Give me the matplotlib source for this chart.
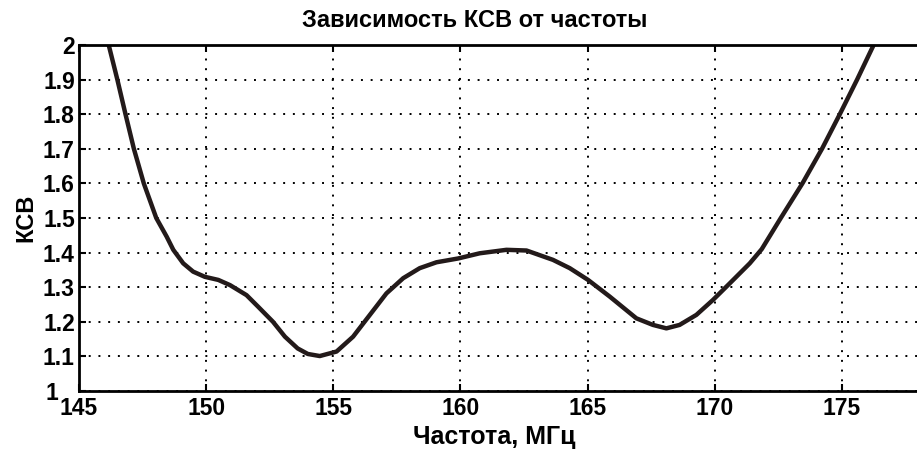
import matplotlib
matplotlib.use('Agg')
import matplotlib.pyplot as plt
from matplotlib.transforms import ScaledTranslation

# --------------------------------------------------------------------------------
# Data (frequency in MHz, VSWR)

freq = [146.17, 146.51, 146.83, 147.16, 147.55, 148.04, 148.45, 148.71, 149.1,
        149.49, 149.95, 150.48, 150.94, 151.59, 152.04, 152.63, 153.1, 153.6,
        154.0, 154.47, 155.13, 155.78, 156.44, 157.09, 157.75, 158.4, 159.06,
        159.91, 160.76, 161.81, 162.6, 163.64, 164.3, 165.02, 165.87, 166.92,
        167.57, 168.1, 168.62, 169.28, 169.93, 170.59, 171.38, 171.85, 172.6,
        173.45, 174.22, 174.92, 175.6, 176.25]
vswr = [2.0, 1.9, 1.8, 1.7, 1.6, 1.5, 1.446, 1.408, 1.369,
        1.345, 1.33, 1.321, 1.306, 1.277, 1.244, 1.2, 1.157, 1.123,
        1.107, 1.101, 1.114, 1.157, 1.22, 1.282, 1.326, 1.355, 1.372,
        1.383, 1.398, 1.408, 1.406, 1.379, 1.355, 1.321, 1.273, 1.21,
        1.191, 1.181, 1.191, 1.22, 1.263, 1.311, 1.369, 1.41, 1.5,
        1.6, 1.7, 1.8, 1.9, 2.0]

xticks = [145, 150, 155, 160, 165, 170, 175]
yticks = [1, 1.1, 1.2, 1.3, 1.4, 1.5, 1.6, 1.7, 1.8, 1.9, 2]

# --------------------------------------------------------------------------------

plt.rcParams['font.family'] = ['Liberation Sans', 'DejaVu Sans']
plt.rcParams['font.weight'] = 'bold'

fig = plt.figure(figsize=(9.17, 4.49), dpi=100)
ax = fig.add_axes([0.0861, 0.1292, 0.9706, 0.7706])

ax.plot(freq, vswr, color='#231a1a', linewidth=3.2,
        solid_capstyle='round', solid_joinstyle='round')

ax.set_xlim(145, 180)
ax.set_ylim(1, 2)
ax.set_xticks(xticks)
ax.set_yticks(yticks)
ax.set_yticklabels([f"{t:g}" for t in yticks])

ax.grid(True, color='black', linestyle=(0, (1, 4)), linewidth=1.4)
ax.tick_params(direction='in', length=5, width=1.5, top=True, right=True,
               labelsize=16.5)
ax.tick_params(axis='x', pad=4)
ax.tick_params(axis='y', pad=3)
for s in ax.spines.values():
    s.set_linewidth(2)

# the "1" label sits further left, as in the source
lbl = ax.get_yticklabels()[0]
lbl.set_transform(lbl.get_transform() + ScaledTranslation(-0.17, 0, fig.dpi_scale_trans))

ax.set_ylabel("КСВ", fontsize=17, fontweight='bold', labelpad=4)
fig.text(0.5180, 0.955, "Зависимость КСВ от частоты", ha='center', va='center',
         fontsize=17, fontweight='bold')
fig.text(0.5387, 0.027, "Частота, МГц", ha='center', va='center',
         fontsize=18, fontweight='bold')

fig.savefig('out.png', dpi=100)
